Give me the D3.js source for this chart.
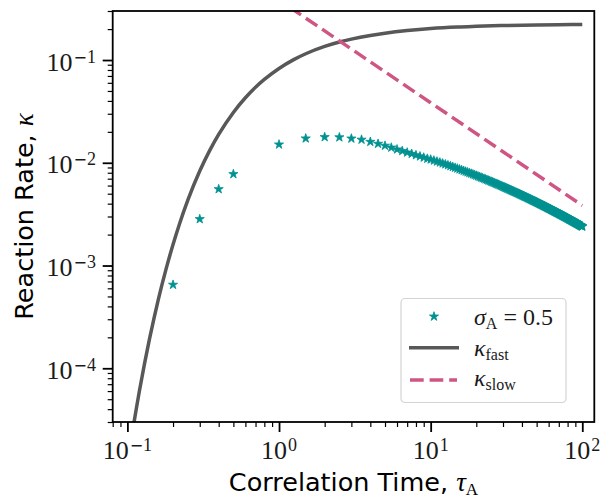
<!DOCTYPE html>
<html>
<head>
<meta charset="utf-8">
<script src="https://cdn.jsdelivr.net/npm/d3@7"></script>
<style>
  body { margin: 0; background: #fff; }
  svg { display: block; }
</style>
</head>
<body>
<svg id="chart" width="602" height="497"></svg>
<script>
// simulated rate, sigma_A = 0.5 (stars)
var tau_sim = [0.2, 0.3, 0.4, 0.5,
  1, 1.5, 2, 2.5, 3, 3.5, 4, 4.5, 5, 5.5,
  6, 6.5, 7, 7.5, 8, 8.5, 9, 9.5, 10, 10.5,
  11, 11.5, 12, 12.5, 13, 13.5, 14, 14.5, 15, 15.5,
  16, 16.5, 17, 17.5, 18, 18.5, 19, 19.5, 20, 20.5,
  21, 21.5, 22, 22.5, 23, 23.5, 24, 24.5, 25, 25.5,
  26, 26.5, 27, 27.5, 28, 28.5, 29, 29.5, 30, 30.5,
  31, 31.5, 32, 32.5, 33, 33.5, 34, 34.5, 35, 35.5,
  36, 36.5, 37, 37.5, 38, 38.5, 39, 39.5, 40, 40.5,
  41, 41.5, 42, 42.5, 43, 43.5, 44, 44.5, 45, 45.5,
  46, 46.5, 47, 47.5, 48, 48.5, 49, 49.5, 50, 50.5,
  51, 51.5, 52, 52.5, 53, 53.5, 54, 54.5, 55, 55.5,
  56, 56.5, 57, 57.5, 58, 58.5, 59, 59.5, 60, 60.5,
  61, 61.5, 62, 62.5, 63, 63.5, 64, 64.5, 65, 65.5,
  66, 66.5, 67, 67.5, 68, 68.5, 69, 69.5, 70, 70.5,
  71, 71.5, 72, 72.5, 73, 73.5, 74, 74.5, 75, 75.5,
  76, 76.5, 77, 77.5, 78, 78.5, 79, 79.5, 80, 80.5,
  81, 81.5, 82, 82.5, 83, 83.5, 84, 84.5, 85, 85.5,
  86, 86.5, 87, 87.5, 88, 88.5, 89, 89.5, 90, 90.5,
  91, 91.5, 92, 92.5, 93, 93.5, 94, 94.5, 95, 95.5,
  96, 96.5, 97, 97.5, 98, 98.5, 99, 99.5, 100];

var kappa_sim = [0.00065, 0.00283, 0.00554, 0.00776,
  0.01507, 0.01726, 0.01778, 0.01770, 0.01722, 0.01679, 0.01600, 0.01531, 0.01466, 0.01406,
  0.01350, 0.01303, 0.01259, 0.01222, 0.01186, 0.01155, 0.01125, 0.01096, 0.01077, 0.01052,
  0.01029, 0.01007, 0.00986, 0.00966, 0.00947, 0.00929, 0.00912, 0.00895, 0.00880, 0.00864,
  0.00850, 0.00836, 0.00822, 0.00809, 0.00796, 0.00784, 0.00772, 0.00761, 0.00750, 0.00739,
  0.00729, 0.00719, 0.00709, 0.00700, 0.00691, 0.00682, 0.00673, 0.00665, 0.00657, 0.00649,
  0.00641, 0.00633, 0.00626, 0.00619, 0.00612, 0.00605, 0.00598, 0.00592, 0.00585, 0.00579,
  0.00573, 0.00567, 0.00561, 0.00556, 0.00550, 0.00545, 0.00539, 0.00534, 0.00529, 0.00524,
  0.00519, 0.00514, 0.00510, 0.00505, 0.00501, 0.00496, 0.00492, 0.00487, 0.00483, 0.00479,
  0.00475, 0.00471, 0.00467, 0.00463, 0.00460, 0.00456, 0.00452, 0.00449, 0.00445, 0.00442,
  0.00438, 0.00435, 0.00431, 0.00428, 0.00425, 0.00422, 0.00419, 0.00416, 0.00413, 0.00410,
  0.00407, 0.00404, 0.00401, 0.00398, 0.00395, 0.00393, 0.00390, 0.00387, 0.00385, 0.00382,
  0.00380, 0.00377, 0.00375, 0.00372, 0.00370, 0.00367, 0.00365, 0.00363, 0.00360, 0.00358,
  0.00356, 0.00354, 0.00352, 0.00349, 0.00347, 0.00345, 0.00343, 0.00341, 0.00339, 0.00337,
  0.00335, 0.00333, 0.00331, 0.00329, 0.00328, 0.00326, 0.00324, 0.00322, 0.00320, 0.00318,
  0.00317, 0.00315, 0.00313, 0.00312, 0.00310, 0.00308, 0.00307, 0.00305, 0.00303, 0.00302,
  0.00300, 0.00299, 0.00297, 0.00296, 0.00294, 0.00293, 0.00291, 0.00290, 0.00288, 0.00287,
  0.00285, 0.00284, 0.00282, 0.00281, 0.00280, 0.00278, 0.00277, 0.00276, 0.00274, 0.00273,
  0.00272, 0.00270, 0.00269, 0.00268, 0.00267, 0.00265, 0.00264, 0.00263, 0.00262, 0.00261,
  0.00259, 0.00258, 0.00257, 0.00256, 0.00255, 0.00254, 0.00253, 0.00251, 0.00250, 0.00249,
  0.00248, 0.00247, 0.00246, 0.00245, 0.00244, 0.00243, 0.00242, 0.00241, 0.00240];

// kappa_fast (solid grey curve)
var tau_fast = [0.1, 0.105, 0.11, 0.115, 0.12, 0.13, 0.14, 0.15, 0.16, 0.18, 0.2, 0.22, 0.25,
  0.3, 0.35, 0.4, 0.5, 0.6, 0.7, 0.8, 1, 1.25, 1.5, 2, 2.5, 3, 4, 5, 7, 10, 15, 20, 30, 50, 70, 100];
var kappa_fast = [0.0000116, 0.0000185, 0.0000284, 0.000042, 0.00006, 0.000113, 0.000194, 0.00031,
  0.000468, 0.000928, 0.0016, 0.00251, 0.0043, 0.0083, 0.01327, 0.01888, 0.0309, 0.0429, 0.0543,
  0.0647, 0.0828, 0.1009, 0.1151, 0.1356, 0.1497, 0.1598, 0.1735, 0.1823, 0.1935, 0.203, 0.210,
  0.213, 0.2165, 0.2195, 0.221, 0.222];

// kappa_slow (dashed pink line)
var tau_slow = [0.1, 0.3, 1, 3, 10, 30, 100];
var kappa_slow = [3.84, 1.28, 0.384, 0.128, 0.0384, 0.0128, 0.00384];

var x_major = [0.1, 1, 10, 100];
var x_exp = [-1, 0, 1, 2];
var y_major = [1e-4, 1e-3, 1e-2, 1e-1];
var y_exp = [-4, -3, -2, -1];

var col_sim = "#009191";
var col_fast = "#585858";
var col_slow = "#cf5684";

var svg = d3.select("#chart");
var plot_left = 112.7, plot_right = 594.3, plot_top = 11, plot_bottom = 422;

var x = d3.scaleLog().domain([0.08, 120]).range([plot_left, plot_right]);
var y = d3.scaleLog().domain([3e-5, 0.3]).range([plot_bottom, plot_top]);

svg.append("defs").append("clipPath").attr("id", "plotclip")
  .append("rect").attr("x", plot_left).attr("y", plot_top)
  .attr("width", plot_right - plot_left).attr("height", plot_bottom - plot_top);

var plot = svg.append("g").attr("clip-path", "url(#plotclip)");

// stars
var star = d3.symbol().type(d3.symbolStar).size(26);
plot.selectAll("path.sim")
  .data(tau_sim.map(function(t, i) { return [t, kappa_sim[i]]; }))
  .enter().append("path")
  .attr("class", "sim")
  .attr("d", star)
  .attr("transform", function(d) { return "translate(" + x(d[0]) + "," + y(d[1]) + ")"; })
  .attr("fill", col_sim)
  .attr("stroke", col_sim)
  .attr("stroke-width", 0.8);

var fast_line = d3.line()
  .x(function(d) { return x(d[0]); })
  .y(function(d) { return y(d[1]); })
  .curve(d3.curveMonotoneX);

plot.append("path")
  .attr("d", fast_line(tau_fast.map(function(t, i) { return [t, kappa_fast[i]]; })))
  .attr("fill", "none")
  .attr("stroke", col_fast)
  .attr("stroke-width", 3.5);

var slow_line = d3.line()
  .x(function(d) { return x(d[0]); })
  .y(function(d) { return y(d[1]); });

plot.append("path")
  .attr("d", slow_line(tau_slow.map(function(t, i) { return [t, kappa_slow[i]]; })))
  .attr("fill", "none")
  .attr("stroke", col_slow)
  .attr("stroke-width", 3.5)
  .attr("stroke-dasharray", "13.7,5.9");

// axes (ticks only, labels drawn below)
function is_major(v, list)
{
    return list.some(function(m) { return Math.abs(m - v) / m < 1e-9; });
}
var x_minor = x.ticks().filter(function(v) { return !is_major(v, x_major); });
var y_minor = y.ticks().filter(function(v) { return !is_major(v, y_major); });

svg.append("g").attr("transform", "translate(0," + plot_bottom + ")")
  .call(d3.axisBottom(x).tickValues(x_minor).tickSize(5).tickFormat(""))
  .call(function(g) { g.select(".domain").remove(); g.selectAll("line").attr("stroke-width", 1.2); });
svg.append("g").attr("transform", "translate(0," + plot_bottom + ")")
  .call(d3.axisBottom(x).tickValues(x_major).tickSize(10).tickFormat(""))
  .call(function(g) { g.select(".domain").remove(); g.selectAll("line").attr("stroke-width", 1.8); });
svg.append("g").attr("transform", "translate(" + plot_left + ",0)")
  .call(d3.axisLeft(y).tickValues(y_minor).tickSize(5).tickFormat(""))
  .call(function(g) { g.select(".domain").remove(); g.selectAll("line").attr("stroke-width", 1.2); });
svg.append("g").attr("transform", "translate(" + plot_left + ",0)")
  .call(d3.axisLeft(y).tickValues(y_major).tickSize(10).tickFormat(""))
  .call(function(g) { g.select(".domain").remove(); g.selectAll("line").attr("stroke-width", 1.8); });

svg.append("rect")
  .attr("x", plot_left).attr("y", plot_top)
  .attr("width", plot_right - plot_left).attr("height", plot_bottom - plot_top)
  .attr("fill", "none").attr("stroke", "#000").attr("stroke-width", 1.8);

var serif = "'Liberation Serif', 'DejaVu Serif', serif";
var sans = "'DejaVu Sans', sans-serif";

// 10^n label, minus drawn in DejaVu for the wide math minus
function power_label(t, n)
{
    t.append("tspan").text("10");
    var s = t.append("tspan").attr("dx", 1).attr("dy", -8).attr("font-size", 18);
    if(n < 0)
    {
        s.append("tspan").attr("font-family", "'DejaVu Sans', sans-serif").attr("font-size", 16).text("\u2212");
    }
    s.append("tspan").text(Math.abs(n));
}

x_major.forEach(function(v, i) {
  var t = svg.append("text")
    .attr("x", x(v)).attr("y", 458.5)
    .attr("text-anchor", "middle")
    .attr("font-family", serif).attr("font-size", 26).attr("fill", "#1a1a1a");
  power_label(t, x_exp[i]);
});

y_major.forEach(function(v, i) {
  var t = svg.append("text")
    .attr("x", 96).attr("y", y(v) + 10.7)
    .attr("text-anchor", "end")
    .attr("font-family", serif).attr("font-size", 26).attr("fill", "#1a1a1a");
  power_label(t, y_exp[i]);
});

// axis titles
var xl = svg.append("text")
  .attr("x", (plot_left + plot_right) / 2).attr("y", 491)
  .attr("text-anchor", "middle")
  .attr("font-family", sans).attr("font-size", 25.5).attr("fill", "#000");
xl.append("tspan").text("Correlation Time, ");
xl.append("tspan").attr("font-family", serif).attr("font-style", "italic").attr("font-size", 27).text("\u03c4");
xl.append("tspan").attr("font-family", serif).attr("font-size", 17).attr("dy", 3.5).text("A");

var yl = svg.append("text")
  .attr("transform", "translate(33," + ((plot_top + plot_bottom) / 2) + ") rotate(-90)")
  .attr("text-anchor", "middle")
  .attr("font-family", sans).attr("font-size", 25.5).attr("fill", "#000");
yl.append("tspan").text("Reaction Rate, ");
yl.append("tspan").attr("font-family", serif).attr("font-style", "italic").attr("font-size", 27).text("\u03ba");

// legend
var lg = svg.append("g");
lg.append("rect")
  .attr("x", 401).attr("y", 298.5).attr("width", 165).attr("height", 104)
  .attr("rx", 4).attr("fill", "#fff").attr("fill-opacity", 0.85)
  .attr("stroke", "#d4d4d4").attr("stroke-width", 1.2);

lg.append("path").attr("d", star)
  .attr("transform", "translate(434,316.5)")
  .attr("fill", col_sim).attr("stroke", col_sim).attr("stroke-width", 0.8);
lg.append("line").attr("x1", 409).attr("x2", 459).attr("y1", 347.7).attr("y2", 347.7)
  .attr("stroke", col_fast).attr("stroke-width", 3.5);
lg.append("line").attr("x1", 410).attr("x2", 457).attr("y1", 380).attr("y2", 380)
  .attr("stroke", col_slow).attr("stroke-width", 3.5).attr("stroke-dasharray", "13.7,5.9");

var l1 = lg.append("text").attr("x", 474).attr("y", 324.5)
  .attr("font-family", serif).attr("font-size", 24).attr("fill", "#1a1a1a");
l1.append("tspan").attr("font-style", "italic").text("\u03c3");
l1.append("tspan").attr("font-size", 16).attr("dy", 4).text("A");
l1.append("tspan").attr("dy", -4).text(" = 0.5");

var l2 = lg.append("text").attr("x", 474).attr("y", 355.5)
  .attr("font-family", serif).attr("font-size", 24).attr("fill", "#1a1a1a");
l2.append("tspan").attr("font-style", "italic").text("\u03ba");
l2.append("tspan").attr("font-size", 16).attr("dy", 4).text("fast");

var l3 = lg.append("text").attr("x", 474).attr("y", 385.5)
  .attr("font-family", serif).attr("font-size", 24).attr("fill", "#1a1a1a");
l3.append("tspan").attr("font-style", "italic").text("\u03ba");
l3.append("tspan").attr("font-size", 16).attr("dy", 4).text("slow");
</script>
</body>
</html>
